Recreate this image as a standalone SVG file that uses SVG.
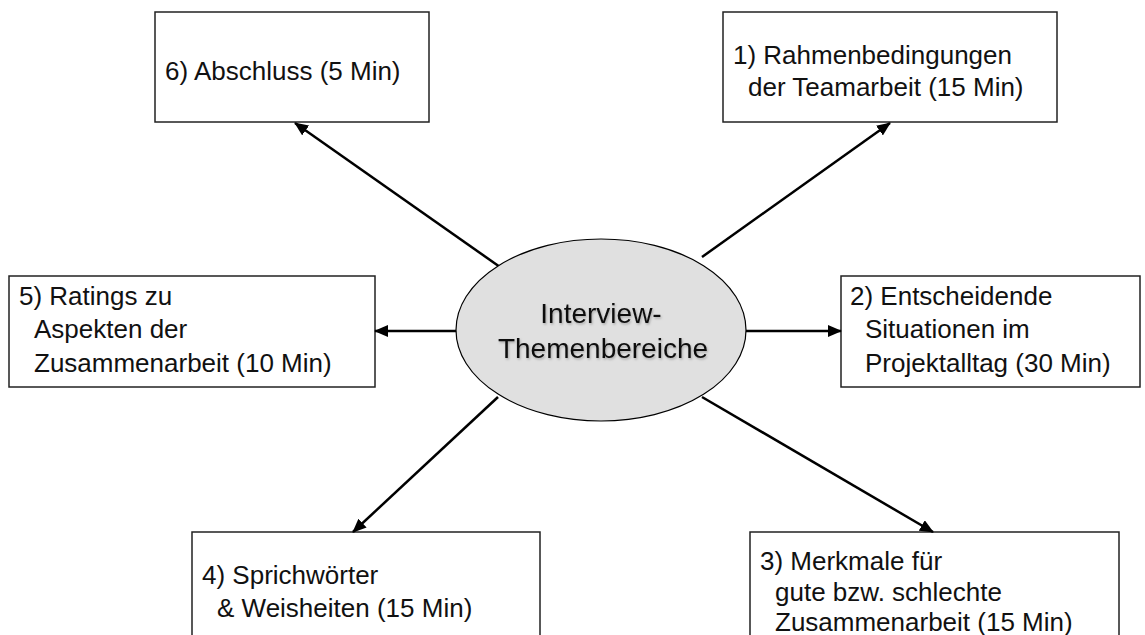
<svg xmlns="http://www.w3.org/2000/svg" width="1145" height="635" viewBox="0 0 1145 635">
<style>
.box{fill:#ffffff;stroke:#222222;stroke-width:1.5}
.t{font-family:"Liberation Sans",Arial,sans-serif;font-size:26px;fill:#111111}
.c{font-family:"Liberation Sans",Arial,sans-serif;font-size:28px;fill:#111111;text-anchor:middle}
.conn{stroke:#000000;stroke-width:2.5;fill:none;marker-end:url(#ah)}
</style>
<defs>
<marker id="ah" markerUnits="userSpaceOnUse" markerWidth="14" markerHeight="12" refX="13" refY="6" orient="auto">
<path d="M0,0 L14,6 L0,12 z" fill="#000000"/>
</marker>
<filter id="sh" x="-10%" y="-20%" width="120%" height="140%">
<feDropShadow dx="1" dy="1.5" stdDeviation="1" flood-color="#000000" flood-opacity="0.25"/>
</filter>
</defs>
<rect width="1145" height="635" fill="#ffffff"/>
<g id="node6"><rect class="box" x="155" y="12" width="274" height="110"/><text class="t" x="165" y="80">6) Abschluss (5 Min)</text></g>
<g id="node1"><rect class="box" x="723" y="12" width="334" height="110"/><text class="t" x="733" y="64">1) Rahmenbedingungen</text><text class="t" x="748" y="96">der Teamarbeit (15 Min)</text></g>
<g id="node5"><rect class="box" x="9" y="276" width="366" height="111"/><text class="t" x="19" y="305">5) Ratings zu</text><text class="t" x="34" y="338">Aspekten der</text><text class="t" x="34" y="372">Zusammenarbeit (10 Min)</text></g>
<g id="node2"><rect class="box" x="841" y="276" width="299" height="111"/><text class="t" x="850" y="305">2) Entscheidende</text><text class="t" x="865" y="338">Situationen im</text><text class="t" x="865" y="372">Projektalltag (30 Min)</text></g>
<g id="node4"><rect class="box" x="192" y="532" width="348" height="120"/><text class="t" x="202" y="584">4) Sprichwörter</text><text class="t" x="217" y="617">&amp; Weisheiten (15 Min)</text></g>
<g id="node3"><rect class="box" x="750" y="532" width="369" height="120"/><text class="t" x="760" y="570">3) Merkmale für</text><text class="t" x="775" y="601">gute bzw. schlechte</text><text class="t" x="775" y="631">Zusammenarbeit (15 Min)</text></g>
<g id="connectors">
<line class="conn" x1="500" y1="267" x2="295" y2="123"/>
<line class="conn" x1="702" y1="257" x2="890" y2="123"/>
<line class="conn" x1="457" y1="331" x2="375" y2="331"/>
<line class="conn" x1="746" y1="331" x2="841" y2="331"/>
<line class="conn" x1="498" y1="397" x2="353" y2="532"/>
<line class="conn" x1="702" y1="397" x2="933" y2="532"/>
</g>
<g id="center"><ellipse cx="601" cy="330" rx="145" ry="91" fill="#e0e0e0" stroke="#000000" stroke-width="1.2"/><g filter="url(#sh)"><text class="c" x="601" y="323">Interview-</text><text class="c" x="603" y="358">Themenbereiche</text></g></g>
</svg>
